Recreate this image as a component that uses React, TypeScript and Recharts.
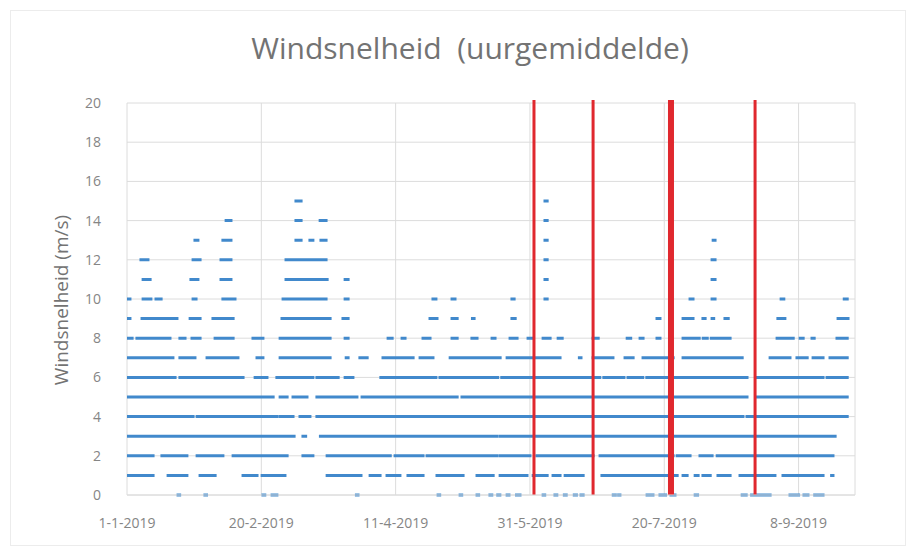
import React from 'react';
import { LineChart, Line, XAxis, YAxis, CartesianGrid, ReferenceLine } from 'recharts';

// x values are days since 1-1-2019
const xTickDays = [0, 50, 100, 150, 200, 250];
const xTickLabels = ['1-1-2019', '20-2-2019', '11-4-2019', '31-5-2019', '20-7-2019', '8-9-2019'];
const yTicks = [0, 2, 4, 6, 8, 10, 12, 14, 16, 18, 20];

// red marker dates (days since 1-1-2019)
const markerDays = [151.5, 173.5, 202.5, 233.8];
const markerStroke = [3, 3, 6, 3];

// hourly wind speed (m/s, rounded) observed as runs of consecutive hours: [startDay, endDay]
const level0: [number, number][] = [[19, 19.6], [29, 29.6], [50.6, 51.3], [54, 55.8], [85.4, 86], [115.8, 116.4], [124, 124.6], [130.3, 130.9], [135.1, 135.8], [138, 138.8], [141.5, 142.2], [145, 146.3], [154.9, 155.5], [159.3, 160], [162.8, 163.5], [166.5, 167.3], [169, 169.8], [181, 181.8], [183, 183.5], [193.6, 194.2], [195.2, 195.8], [198.4, 200.5], [202.5, 204], [211.5, 212.4], [229, 230.5], [232.5, 236.5], [237.5, 239.4], [246.8, 250], [252, 253.5], [256, 259.1]];
const level1: [number, number][] = [[0.4, 9.7], [15.3, 22.3], [27.2, 32.8], [43.2, 48.4], [50.3, 58.8], [74.5, 79.3], [80.4, 87.1], [90.5, 94.2], [96.8, 101.6], [104.6, 110.2], [115.4, 125.1], [130.3, 136.3], [138.9, 148.9], [151.2, 156.4], [158.6, 161.2], [163.1, 169.8], [176.8, 204.8], [207, 208.5], [211.5, 212.6], [214.4, 217.1], [220, 224.5], [228.2, 241.2], [244.2, 259.1], [262.3, 262.8]];
const level2: [number, number][] = [[0.4, 9.7], [13, 22.3], [26.1, 35.7], [39.5, 59.6], [65.5, 69.2], [74.5, 98], [99.8, 110.2], [111.7, 137.7], [138.9, 150], [152.6, 173.5], [176.1, 203.3], [204.8, 209.6], [213.3, 217.8], [219.7, 262.8]];
const level3: [number, number][] = [[0.4, 5], [6, 12.3], [13.4, 37.2], [38.3, 60.7], [61.5, 62.2], [65.5, 66.5], [72, 137.7], [138.9, 217.1], [218.2, 263.6]];
const level4: [number, number][] = [[0.4, 24.6], [26.1, 37.2], [38.3, 55.8], [57, 61.8], [64.4, 68.1], [70.7, 229.3], [230.8, 268.1]];
const level5: [number, number][] = [[0, 54.4], [57, 59.6], [61.8, 67], [70.7, 85.6], [87.5, 122.9], [124.7, 230.8], [234.5, 268.1]];
const level6: [number, number][] = [[0, 17.9], [19.7, 43.2], [47.7, 52.1], [55.8, 69.2], [70.7, 78.6], [81.2, 84.1], [94.5, 115], [116.5, 138], [139.5, 156], [157, 176], [177.5, 185], [186.5, 192], [193.5, 230.8], [234.5, 250.6], [251.7, 259.1], [260.6, 268.1]];
const level7: [number, number][] = [[0, 17.1], [19.7, 25.3], [29.8, 41.3], [48.4, 50.6], [57, 75.6], [81.6, 82.3], [86.7, 89.4], [95.3, 106.5], [109.1, 113.9], [120.3, 138.9], [141.5, 161.2], [168.4, 169], [173.5, 180.9], [185.4, 188.4], [192.1, 203.3], [207, 229], [239.4, 246.8], [249.4, 253.2], [255.4, 259.1], [261.7, 268.1]];
const level8: [number, number][] = [[0, 1.9], [3.7, 16], [19.7, 21.6], [24.2, 27.2], [32.8, 39.5], [46.9, 50.6], [57, 75.6], [81.2, 82.3], [97.2, 98.7], [102.4, 103.5], [110.2, 112.8], [121, 122.9], [128.4, 130.3], [135.9, 137], [142.6, 145.2], [149.3, 150.8], [154.9, 157.5], [160.5, 162], [173.5, 175.4], [186.2, 187.5], [191, 192.1], [197.3, 198.4], [207, 213], [214.5, 216], [217.5, 221], [222, 224.5], [242, 248], [250.6, 251.7], [255, 255.8], [264.3, 268.1]];
const level9: [number, number][] = [[0, 1.1], [5.6, 18.6], [23.5, 27.2], [32, 39.5], [57.7, 75.6], [80.4, 82.3], [112.8, 115.4], [121, 122.9], [128.6, 129.2], [143.3, 144.5], [197.3, 198.4], [207, 210.7], [214.4, 215.2], [217.8, 218.4], [222.6, 223.8], [242.3, 244.9], [264.7, 268.4]];
const level10: [number, number][] = [[0, 1.1], [6, 8.9], [10.8, 12.7], [24.6, 25.7], [35.7, 40.2], [58.1, 74.1], [81.2, 82.3], [113.9, 115], [121, 122.1], [143.3, 144.1], [155.6, 156.4], [209.6, 210.7], [217.8, 218.9], [243.5, 244.5], [267, 268.1]];
const level11: [number, number][] = [[6, 8.6], [23.8, 26.4], [35, 38.7], [59.2, 74.5], [81.2, 82.3], [155.6, 156.4], [217.8, 218.9]];
const level12: [number, number][] = [[5.2, 7.8], [24.6, 27.2], [35, 38.7], [59.2, 74.1], [155.6, 156.4], [217.8, 218.9]];
const level13: [number, number][] = [[25.3, 26.4], [35.7, 38.7], [62.9, 64.8], [68.1, 69.2], [72.2, 74.1], [155.6, 156.4], [218.2, 218.9]];
const level14: [number, number][] = [[36.9, 38.7], [62.9, 64.8], [71.9, 74.1], [155.6, 156.4]];
const level15: [number, number][] = [[62.9, 64.8], [155.6, 156.4]];

const levelValues = [0, 1, 2, 3, 4, 5, 6, 7, 8, 9, 10, 11, 12, 13, 14, 15];
const levelRuns = [level0, level1, level2, level3, level4, level5, level6, level7, level8, level9, level10, level11, level12, level13, level14, level15];

const series = levelRuns.map((runs, i) =>
  runs.flatMap(([s, e]) => [
    { x: s, y: levelValues[i] },
    { x: e, y: levelValues[i] },
    { x: e, y: null },
  ])
);

const FONT = '"Open Sans", sans-serif';
const BLUE = '#4189cc';
const RED = '#e0282e';
const GRID = '#dcdcdc';

const XTick = (props: any) => {
  const { x, payload } = props;
  const idx = xTickDays.indexOf(payload.value);
  return (
    <text x={x} y={528} textAnchor="middle" fill="#858585" fontSize={14} fontFamily={FONT}>
      {idx >= 0 ? xTickLabels[idx] : ''}
    </text>
  );
};

const YTick = (props: any) => {
  const { y, payload } = props;
  return (
    <text x={101} y={y} dy="0.35em" textAnchor="end" fill="#858585" fontSize={14} fontFamily={FONT}>
      {payload.value}
    </text>
  );
};

export default function App() {
  return (
    <div style={{ position: 'absolute', left: 0, top: 0, width: 918, height: 550, background: '#fff' }}>
      <LineChart width={918} height={550} margin={{ top: 103, right: 63, bottom: 0, left: 0 }}>
        <CartesianGrid stroke={GRID} strokeWidth={1} />
        <XAxis
          type="number"
          dataKey="x"
          domain={[0, 271]}
          ticks={xTickDays}
          allowDataOverflow
          height={55}
          axisLine={{ stroke: GRID }}
          tickLine={false}
          tick={<XTick />}
        />
        <YAxis
          type="number"
          domain={[0, 20]}
          ticks={yTicks}
          width={127}
          axisLine={false}
          tickLine={false}
          tick={<YTick />}
        />
        {series.map((d, i) => (
          <Line
            key={i}
            data={d}
            dataKey="y"
            type="linear"
            stroke={BLUE}
            strokeWidth={3}
            strokeLinecap="square"
            dot={false}
            activeDot={false}
            connectNulls={false}
            isAnimationActive={false}
          />
        ))}
        {markerDays.map((d, i) => (
          <ReferenceLine
            key={'m' + i}
            segment={[{ x: d, y: 0 }, { x: d, y: 20.15 }]}
            ifOverflow="visible"
            stroke={RED}
            strokeWidth={markerStroke[i]}
          />
        ))}
      </LineChart>
      <svg width={918} height={550} style={{ position: 'absolute', left: 0, top: 0, pointerEvents: 'none' }}>
        <rect x={10.5} y={10.5} width={895} height={535} fill="none" stroke="#ececec" />
        <text
          x={470}
          y={59}
          textAnchor="middle"
          fill="#737373"
          fontSize={30}
          fontFamily={FONT}
          xmlSpace="preserve"
          style={{ whiteSpace: 'pre' }}
        >
          {'Windsnelheid  (uurgemiddelde)'}
        </text>
        <text
          x={0}
          y={0}
          transform="translate(68,300) rotate(-90)"
          textAnchor="middle"
          fill="#737373"
          fontSize={19}
          fontFamily={FONT}
        >
          Windsnelheid (m/s)
        </text>
      </svg>
    </div>
  );
}
